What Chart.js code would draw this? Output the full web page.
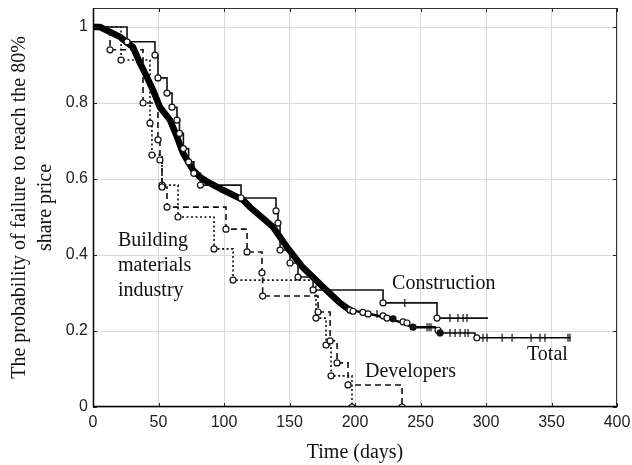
<!DOCTYPE html>
<html>
<head>
<meta charset="utf-8">
<title>Probability of failure to reach the 80% share price</title>
<script src="https://cdn.jsdelivr.net/npm/chart.js"></script>
<style>
  body { margin: 0; background: #fff; }
  .chart-box { position: relative; width: 632px; height: 465px; }
</style>
</head>
<body>
<div class="chart-box"><canvas id="kmChart"></canvas></div>
<script>
// values: time in days, probability
const totalTimes  = [0, 5.3, 20.6, 30.5, 35.9, 41.2, 45.8, 51.1, 58.8, 64.1, 68.7, 76.3, 81.6, 89.3, 99.2, 114.5, 119.8, 137.4, 148, 160, 175.5, 188.5, 196, 209, 221, 234, 244, 261, 263.4, 265, 291.6, 292, 364];
const totalValues = [1, 1, 0.974, 0.947, 0.905, 0.868, 0.834, 0.789, 0.755, 0.711, 0.668, 0.624, 0.605, 0.589, 0.571, 0.545, 0.526, 0.474, 0.421, 0.368, 0.316, 0.274, 0.255, 0.247, 0.237, 0.224, 0.21, 0.21, 0.2, 0.195, 0.195, 0.182, 0.182];
const totalCircleTimes  = [196.2, 198.5, 206, 210, 221.4, 224.4, 236.7, 239.7, 263.4, 293];
const totalCircleValues = [0.255, 0.252, 0.249, 0.245, 0.24, 0.234, 0.224, 0.221, 0.202, 0.182];
const totalDotTimes  = [229, 244.3, 265];
const totalDotValues = [0.232, 0.21, 0.195];
const totalTickTimes  = [216.8, 255, 256.5, 258, 272.5, 276.4, 280.2, 284, 286.3, 297.7, 300.8, 312.3, 319.9, 334.4, 341.2, 345, 362.6, 364.1];
const totalTickValues = [0.245, 0.21, 0.21, 0.21, 0.195, 0.195, 0.195, 0.195, 0.195, 0.182, 0.182, 0.182, 0.182, 0.182, 0.182, 0.182, 0.182, 0.182];

const constructionTimes  = [0, 26, 47.3, 49.6, 56.5, 60.3, 64.1, 66, 69, 73, 77, 82, 113, 139.7, 141.2, 142.8, 150.4, 156.5, 168, 221.4, 262.6, 301.5];
const constructionValues = [1, 0.961, 0.926, 0.866, 0.826, 0.789, 0.755, 0.72, 0.68, 0.645, 0.615, 0.584, 0.55, 0.516, 0.484, 0.413, 0.379, 0.342, 0.308, 0.274, 0.234, 0.234];
const constructionTickTimes  = [238, 272.5, 278.6, 282.5, 285.5];
const constructionTickValues = [0.274, 0.234, 0.234, 0.234, 0.234];

const buildingTimes  = [0, 21.4, 43.5, 45, 52.7, 64.9, 92.4, 106.9, 170.2, 177.9, 181.7, 197.7];
const buildingValues = [1, 0.913, 0.747, 0.663, 0.584, 0.5, 0.416, 0.334, 0.234, 0.163, 0.082, 0];

const developerTimes  = [0, 13, 38.2, 49.6, 51.1, 52.7, 56.5, 101.5, 117.6, 129, 129.5, 171.8, 181, 186.3, 194.7, 235.9];
const developerValues = [1, 0.94, 0.8, 0.703, 0.65, 0.579, 0.526, 0.468, 0.408, 0.353, 0.292, 0.25, 0.174, 0.116, 0.058, 0];

const xTicks = [0, 50, 100, 150, 200, 250, 300, 350, 400];
const yTicks = [0, 0.2, 0.4, 0.6, 0.8, 1];

const curveLabels = [
  { lines: ['Construction'], t: 228.3, s: 0.324 },
  { lines: ['Developers'], t: 207.6, s: 0.092 },
  { lines: ['Total'], t: 331.3, s: 0.137 },
  { lines: ['Building', 'materials', 'industry'], t: 19.1, s: 0.437 }
];

function toPoints(xs, ys) {
  return xs.map((v, i) => ({ x: v, y: ys[i] }));
}

function stepSet(label, xs, ys, dash, hideLast) {
  const n = xs.length;
  return {
    label: label,
    data: toPoints(xs, ys),
    showLine: true,
    stepped: 'before',
    borderColor: '#111',
    borderWidth: 1.6,
    borderDash: dash,
    pointStyle: 'circle',
    pointRadius: c => (c.dataIndex === 0 || (hideLast && c.dataIndex === n - 1)) ? 0 : 3,
    pointBackgroundColor: '#fff',
    pointBorderColor: '#111',
    pointBorderWidth: 1.2
  };
}

function markSet(label, xs, ys, style, fill) {
  return {
    label: label,
    data: toPoints(xs, ys),
    showLine: false,
    pointStyle: style,
    pointRotation: style === 'line' ? 90 : 0,
    pointRadius: style === 'line' ? 4 : 3,
    pointBackgroundColor: fill,
    pointBorderColor: '#111',
    pointBorderWidth: 1.2
  };
}

const frameAndLabels = {
  id: 'frameAndLabels',
  afterDatasetsDraw(chart) {
    const { ctx, chartArea: a, scales: { x, y } } = chart;
    ctx.save();
    ctx.strokeStyle = '#222';
    ctx.lineWidth = 1;
    ctx.beginPath();
    xTicks.forEach(v => {
      const px = Math.round(x.getPixelForValue(v)) + 0.5;
      ctx.moveTo(px, a.bottom); ctx.lineTo(px, a.bottom - 4);
      ctx.moveTo(px, a.top); ctx.lineTo(px, a.top + 4);
    });
    yTicks.forEach(v => {
      const py = Math.round(y.getPixelForValue(v)) + 0.5;
      ctx.moveTo(a.left, py); ctx.lineTo(a.left + 4, py);
      ctx.moveTo(a.right, py); ctx.lineTo(a.right - 4, py);
    });
    ctx.stroke();
    ctx.strokeStyle = '#333';
    ctx.strokeRect(a.left + 0.5, a.top + 0.5, a.right - a.left - 1, a.bottom - a.top - 1);
    ctx.strokeStyle = '#000';
    ctx.lineWidth = 1.5;
    ctx.beginPath();
    ctx.moveTo(a.left + 0.5, a.top);
    ctx.lineTo(a.left + 0.5, a.bottom - 0.5);
    ctx.lineTo(a.right, a.bottom - 0.5);
    ctx.stroke();

    ctx.font = '20px "Liberation Serif"';
    ctx.fillStyle = '#111';
    ctx.textBaseline = 'middle';
    ctx.textAlign = 'left';
    curveLabels.forEach(l => {
      l.lines.forEach((s, i) => {
        ctx.fillText(s, x.getPixelForValue(l.t), y.getPixelForValue(l.s) + i * 25);
      });
    });
    ctx.restore();
  }
};

new Chart(document.getElementById('kmChart'), {
  type: 'scatter',
  data: {
    datasets: [
      markSet('Construction censored', constructionTickTimes, constructionTickValues, 'line', '#111'),
      stepSet('Construction', constructionTimes, constructionValues, [], true),
      stepSet('Developers', developerTimes, developerValues, [6, 4], false),
      stepSet('Building materials industry', buildingTimes, buildingValues, [2, 2.5], false),
      markSet('Total censored', totalTickTimes, totalTickValues, 'line', '#111'),
      markSet('Total dots', totalDotTimes, totalDotValues, 'circle', '#111'),
      markSet('Total circles', totalCircleTimes, totalCircleValues, 'circle', '#fff'),
      {
        label: 'Total',
        data: toPoints(totalTimes, totalValues),
        showLine: true,
        borderColor: '#000',
        borderWidth: 6,
        borderJoinStyle: 'round',
        borderCapStyle: 'round',
        pointRadius: 0,
        segment: {
          borderWidth: c => c.p0.parsed.x < 190 ? 6.5 : (c.p0.parsed.x < 250 ? 2.5 : 1.5)
        }
      }
    ]
  },
  options: {
    responsive: true,
    maintainAspectRatio: false,
    animation: false,
    events: [],
    layout: { padding: { top: 8, right: 15, left: 0, bottom: 0 } },
    plugins: {
      legend: { display: false },
      tooltip: { enabled: false }
    },
    scales: {
      x: {
        type: 'linear',
        min: 0,
        max: 400,
        afterFit: s => { s.height = 58; s.paddingLeft = 0; s.paddingRight = 0; },
        afterBuildTicks: s => { s.ticks = xTicks.map(v => ({ value: v })); },
        grid: { color: '#dadada', lineWidth: 1, drawTicks: false },
        border: { display: false },
        ticks: {
          padding: 6,
          color: '#222',
          font: { family: '"Liberation Sans", Arial, sans-serif', size: 16 },
          maxRotation: 0
        },
        title: {
          display: true,
          text: 'Time (days)',
          color: '#111',
          font: { family: '"Liberation Serif", serif', size: 20, lineHeight: 1.2 },
          padding: { top: 0, bottom: 0 }
        }
      },
      y: {
        type: 'linear',
        min: 0,
        max: 1.05,
        afterFit: s => { s.width = 93; s.paddingTop = 0; s.paddingBottom = 0; },
        afterBuildTicks: s => { s.ticks = yTicks.map(v => ({ value: v })); },
        grid: { color: '#dadada', lineWidth: 1, drawTicks: false },
        border: { display: false },
        ticks: {
          padding: 5,
          color: '#222',
          font: { family: '"Liberation Sans", Arial, sans-serif', size: 16 },
          callback: v => String(+v.toFixed(1))
        },
        title: {
          display: true,
          text: ['The probability of failure to reach the 80%', 'share price'],
          color: '#111',
          font: { family: '"Liberation Serif", serif', size: 20, lineHeight: 1.3 },
          padding: { top: 7, bottom: 0 }
        }
      }
    }
  },
  plugins: [frameAndLabels]
});
</script>
</body>
</html>
